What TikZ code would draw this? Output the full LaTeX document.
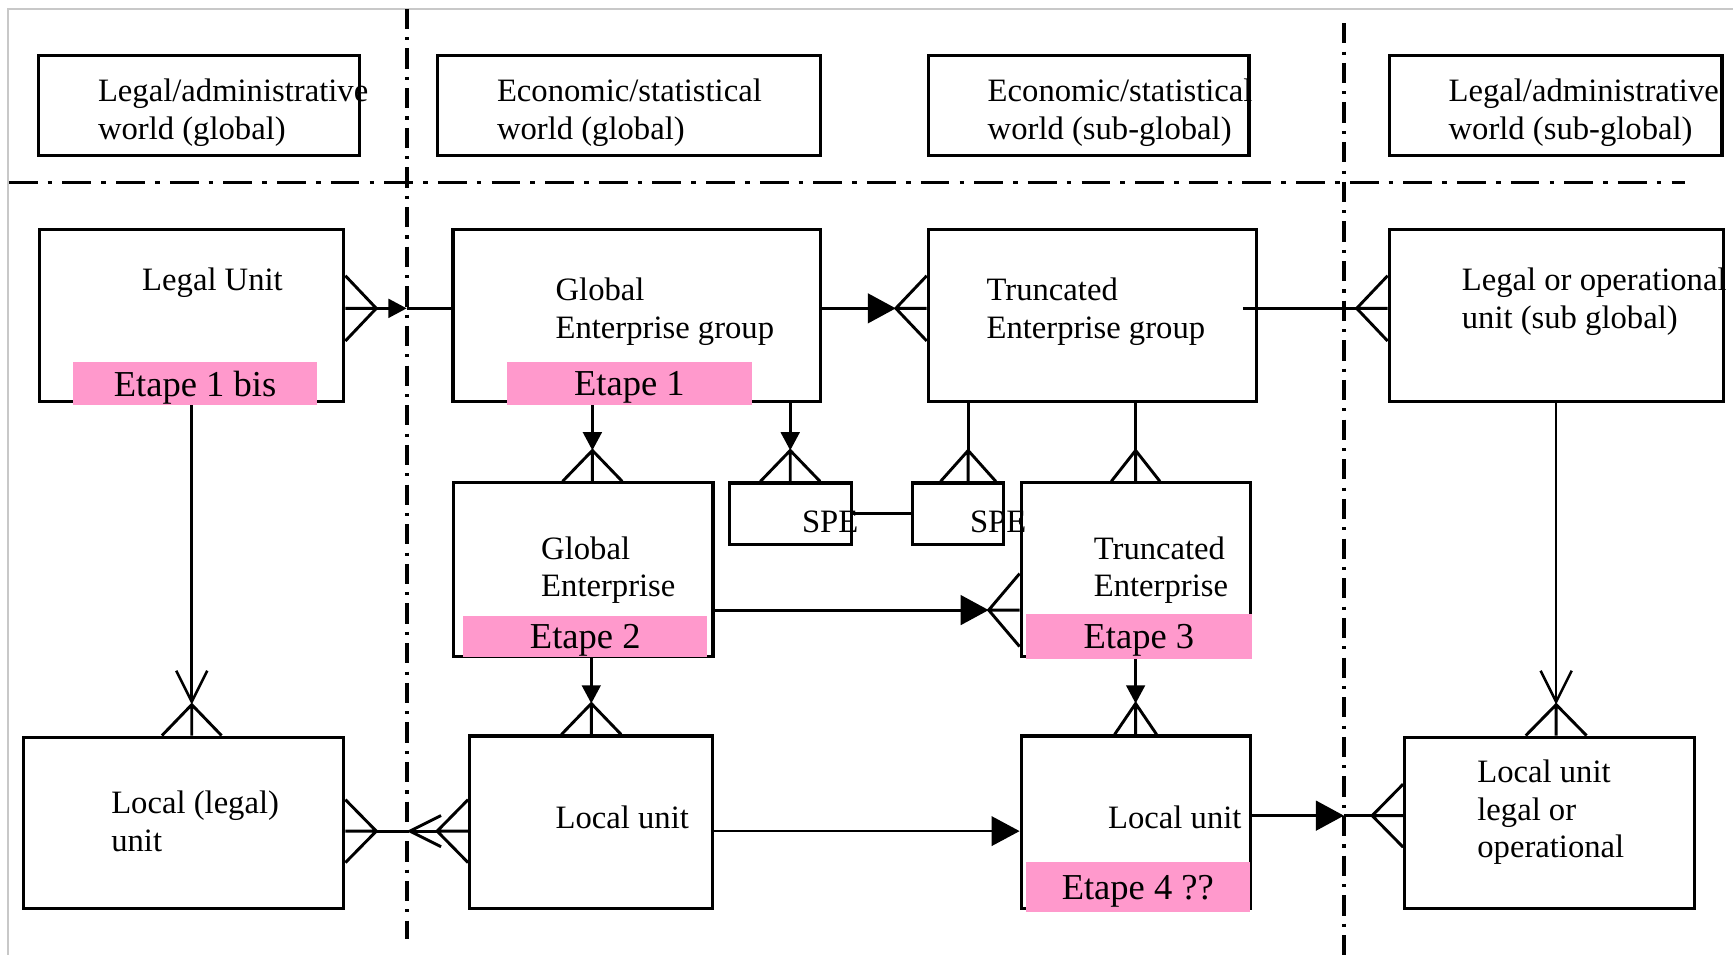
\documentclass[tikz,border=0pt]{standalone}
\usepackage{fontspec}
\setmainfont{Liberation Serif}
\usetikzlibrary{arrows.meta}
\definecolor{etapepink}{HTML}{FF99CC}
\definecolor{framegray}{HTML}{C8C8C8}
\tikzset{
    unitbox/.style={draw, line width=0.8pt, inner sep=0pt},
    unittext/.style={anchor=base west, align=left, inner sep=0pt, font=\fontsize{8.4}{9.65}\selectfont},
    etape/.style={fill=etapepink, inner sep=0pt, text depth=0pt, font=\fontsize{9.4}{11}\selectfont},
    link/.style={line width=0.75pt},
    bigtip/.style={-{Triangle[length=7.2pt,width=7.6pt]}},
    smalltip/.style={-{Triangle[length=4.7pt,width=4.8pt]}},
    opentip/.style={-{Straight Barb[length=8pt,width=8pt]}},
    hworld/.style={line width=0.85pt, dash pattern=on 7.4pt off 2.6pt on 1.2pt off 2.6pt},
    vworld/.style={line width=1pt, dash pattern=on 5.2pt off 2.1pt on 0.8pt off 2.1pt}
}
\newcommand{\crowfoot}[4]{%
    \begin{scope}[shift={(#1)}, rotate=#2]
        \draw[link] (0,#3) -- (28,0) -- (0,-#3) (0,0) -- (28,0);
        \coordinate (#4) at (28,0);
    \end{scope}}

\begin{document}
\begin{tikzpicture}[x=0.01cm, y=-0.01cm]
        \useasboundingbox (0,0) rectangle (1568,864);
        \draw[framegray, line width=0.4pt] (7,864) -- (7,8) -- (1568,8);

        \draw[hworld] (8,165) -- (1525,165);
        \draw[vworld] (368,8) coordinate (vw1) -- (368,850);
        \draw[vworld] (1216,21) coordinate (vw2) -- (1216,864);

        \node[unitbox, minimum width=2.9cm, minimum height=0.91cm] (wlg) at (180,95.5) {};
        \node[unitbox, minimum width=3.46cm, minimum height=0.91cm] (weg) at (569,95.5) {};
        \node[unitbox, minimum width=2.9cm, minimum height=0.91cm] (wes) at (985,95.5) {};
        \node[unitbox, minimum width=3.01cm, minimum height=0.91cm] (wls) at (1407.5,95.5) {};

        \node[unitbox, minimum width=2.75cm, minimum height=1.55cm] (lu) at (173.5,285.5) {};
        \node[unitbox, minimum width=3.32cm, minimum height=1.55cm] (geg) at (576,285.5) {};
        \node[unitbox, minimum width=2.97cm, minimum height=1.55cm] (teg) at (988.5,285.5) {};
        \node[unitbox, minimum width=3.02cm, minimum height=1.55cm] (lou) at (1408,285.5) {};

        \node[unitbox, minimum width=1.1cm, minimum height=0.56cm] (spea) at (715,465) {};
        \node[unitbox, minimum width=0.82cm, minimum height=0.56cm] (speb) at (867,465) {};
        \node[unitbox, minimum width=2.35cm, minimum height=1.57cm] (ge) at (527.5,515.5) {};
        \node[unitbox, minimum width=2.07cm, minimum height=1.57cm] (te) at (1027.5,515.5) {};

        \node[unitbox, minimum width=2.9cm, minimum height=1.55cm] (llu) at (166,744.5) {};
        \node[unitbox, minimum width=2.2cm, minimum height=1.56cm] (lum) at (535,744) {};
        \node[unitbox, minimum width=2.07cm, minimum height=1.56cm] (lur) at (1027.5,744) {};
        \node[unitbox, minimum width=2.62cm, minimum height=1.55cm] (llo) at (1402,744.5) {};

        \coordinate (r1) at (0,279);
        \coordinate (r3) at (0,552);
        \coordinate (r4) at (0,752);
        \coordinate (r5) at (0,738);
        \coordinate (c1) at (536,0);
        \coordinate (c3) at (876,0);

        \crowfoot{lu.east |- r1}{0}{29.5}{lu-cf}
        \draw[link, smalltip] (lu-cf) -- (vw1 |- r1);
        \draw[link] (vw1 |- r1) -- (geg.west |- r1);

        \crowfoot{teg.west |- r1}{180}{29.5}{teg-cf}
        \draw[link, bigtip] (geg.east |- r1) -- (teg-cf);

        \crowfoot{lou.west |- r1}{180}{29.5}{lou-cf}
        \draw[link] ([xshift=-4pt]teg.east |- r1) -- (lou-cf);

        \crowfoot{ge.north -| c1}{90}{27}{ge-cf}
        \draw[link, smalltip] (geg.south -| c1) -- (ge-cf);

        \crowfoot{spea.north}{90}{27}{spea-cf}
        \draw[link, smalltip] (geg.south -| spea) -- (spea-cf);

        \crowfoot{speb.north -| c3}{90}{25}{speb-cf}
        \draw[link] (teg.south -| c3) -- (speb-cf);

        \crowfoot{te.north}{90}{22}{te-cf}
        \draw[link] (teg.south -| te) -- (te-cf);

        \draw[link] (spea.east) -- (speb.west);

        \crowfoot{te.west |- r3}{180}{33}{te-cfw}
        \draw[link, bigtip] (ge.east |- r3) -- (te-cfw);

        \crowfoot{lum.north}{90}{27}{lum-cf}
        \draw[link, smalltip] (ge.south -| lum) -- (lum-cf);

        \crowfoot{lur.north}{90}{19}{lur-cf}
        \draw[link, smalltip] (te.south -| lur) -- (lur-cf);

        \crowfoot{llu.north -| lu}{90}{27}{llu-cf}
        \draw[line width=0.65pt, opentip] (lu.south) -- (llu-cf);

        \crowfoot{llo.north -| lou}{90}{27.5}{llo-cf}
        \draw[line width=0.65pt, opentip] (lou.south) -- (llo-cf);

        \crowfoot{llu.east |- r4}{0}{28.5}{llu-cfe}
        \crowfoot{lum.west |- r4}{180}{28.5}{lum-cfw}
        \draw[link, opentip] (lum-cfw) -- (vw1 |- r4);
        \draw[link] (vw1 |- r4) -- (llu-cfe);

        \draw[line width=0.45pt, bigtip] (lum.east |- r4) -- (lur.west |- r4);

        \crowfoot{llo.west |- r5}{180}{28.5}{llo-cfw}
        \draw[link, bigtip] (lur.east |- r5) -- (vw2 |- r5);
        \draw[link] (vw2 |- r5) -- (llo-cfw);

        \node[etape, minimum width=2.21cm, minimum height=0.38cm] (e1b) at (176.5,347) {Etape 1 bis};
        \node[etape, minimum width=2.21cm, minimum height=0.38cm] (e1) at (569.5,347) {Etape 1};
        \node[etape, minimum width=2.21cm, minimum height=0.37cm] (e2) at (529.5,575.5) {Etape 2};
        \node[etape, minimum width=2.05cm, minimum height=0.4cm] (e3) at (1030.5,576) {Etape 3};
        \node[etape, minimum width=2.03cm, minimum height=0.45cm] (e4) at (1029.5,802.5) {Etape 4 ??};

        \node[unittext] (wlgtext) at (88,126) {Legal/administrative\\world (global)};
        \node[unittext] (wegtext) at (449,126) {Economic/statistical\\world (global)};
        \node[unittext] (westext) at (893,126) {Economic/statistical\\world (sub-global)};
        \node[unittext] (wlstext) at (1310,126) {Legal/administrative\\world (sub-global)};
        \node[unittext] (lutext) at (128,263) {Legal Unit};
        \node[unittext] (gegtext) at (502,306) {Global\\Enterprise group};
        \node[unittext] (tegtext) at (892,306) {Truncated\\Enterprise group};
        \node[unittext] (loutext) at (1322,297) {Legal or operational\\unit (sub global)};
        \node[unittext] (speatext) at (725,482) {SPE};
        \node[unittext] (spebtext) at (877,482) {SPE};
        \node[unittext] (getext) at (489,540) {Global\\Enterprise};
        \node[unittext] (tetext) at (989,540) {Truncated\\Enterprise};
        \node[unittext] (llutext) at (100,770) {Local (legal)\\unit};
        \node[unittext] (lumtext) at (502,750) {Local unit};
        \node[unittext] (lurtext) at (1002,750) {Local unit};
        \node[unittext] (llotext) at (1336,776) {Local unit\\legal or\\operational};
    \end{tikzpicture}
\end{document}
